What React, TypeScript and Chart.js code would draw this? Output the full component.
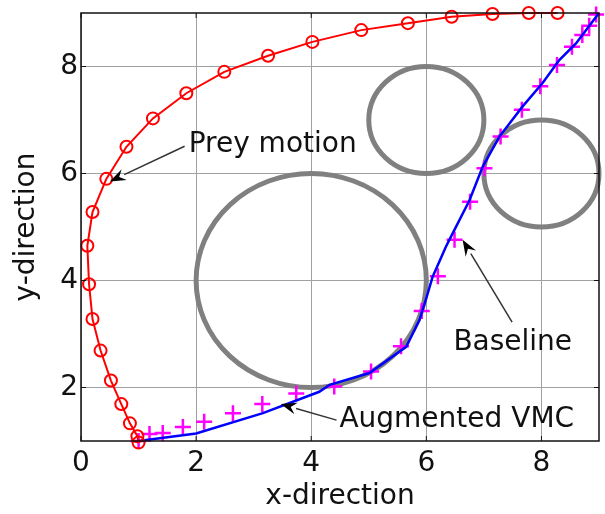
import React, { useEffect, useRef } from "react";
import { Chart, registerables } from "chart.js";

Chart.register(...registerables);

// ---- data ----
const xTicks = [0, 2, 4, 6, 8];
const yTicks = [2, 4, 6, 8];

const preyX = [1.0, 0.98, 0.85, 0.7, 0.52, 0.34, 0.2, 0.14, 0.11, 0.2, 0.44, 0.79, 1.25, 1.83, 2.49, 3.25, 4.02, 4.87, 5.68, 6.44, 7.15, 7.78, 8.28];
const preyY = [0.97, 1.09, 1.33, 1.69, 2.13, 2.69, 3.28, 3.93, 4.65, 5.28, 5.9, 6.5, 7.03, 7.5, 7.9, 8.2, 8.46, 8.68, 8.81, 8.93, 8.98, 9.0, 9.0];

const baselineX = [1.0, 2.0, 3.16, 4.14, 4.32, 5.01, 5.65, 5.88, 6.0, 6.11, 6.34, 6.4, 6.75, 6.98, 7.27, 7.67, 8.02, 8.31, 8.6, 9.0];
const baselineY = [1.0, 1.14, 1.52, 1.92, 2.05, 2.27, 2.76, 3.26, 3.67, 4.07, 4.63, 4.76, 5.5, 6.13, 6.69, 7.25, 7.69, 8.12, 8.43, 9.0];

const vmcX = [1.0, 1.19, 1.42, 1.77, 2.14, 2.64, 3.15, 3.74, 4.4, 5.04, 5.56, 5.92, 6.2, 6.49, 6.76, 7.01, 7.29, 7.66, 7.98, 8.27, 8.53, 8.71, 8.83, 8.95];
const vmcY = [1.0, 1.13, 1.15, 1.26, 1.36, 1.52, 1.69, 1.89, 2.02, 2.3, 2.77, 3.43, 4.08, 4.76, 5.47, 6.1, 6.69, 7.19, 7.63, 8.03, 8.37, 8.59, 8.76, 8.97];

const obstacleX = [4, 6, 8];
const obstacleY = [4, 7, 6];
const obstacleR = [2, 1, 1];

const noteText = ["Prey motion", "Baseline", "Augmented VMC"];
const noteX = [1.87, 6.47, 4.49];
const noteY = [6.4, 2.7, 1.26];
const arrowFromX = [1.8, 7.49, 4.44];
const arrowFromY = [6.51, 3.22, 1.39];
const arrowToX = [0.5, 6.63, 3.47];
const arrowToY = [5.85, 4.76, 1.69];

const FONT = "'DejaVu Sans', sans-serif";

const toPts = (xs: number[], ys: number[]) => xs.map((x, i) => ({ x, y: ys[i] }));

const zeroPad = () => ({ left: 0, right: 0, top: 0, bottom: 0 });

const overlay = {
  id: "overlay",
  beforeLayout(chart: any) {
    for (const id of Object.keys(chart.scales)) {
      chart.scales[id].getPadding = zeroPad;
    }
  },
  beforeDatasetsDraw(chart: any) {
    const { ctx } = chart;
    const xs = chart.scales.x;
    const ys = chart.scales.y;
    ctx.save();
    ctx.strokeStyle = "#808080";
    ctx.lineWidth = 5;
    for (let i = 0; i < obstacleX.length; i++) {
      const cx = xs.getPixelForValue(obstacleX[i]);
      const cy = ys.getPixelForValue(obstacleY[i]);
      const rx = xs.getPixelForValue(obstacleX[i] + obstacleR[i]) - cx;
      const ry = cy - ys.getPixelForValue(obstacleY[i] + obstacleR[i]);
      ctx.beginPath();
      ctx.ellipse(cx, cy, rx, ry, 0, 0, Math.PI * 2);
      ctx.stroke();
    }
    ctx.restore();
  },
  afterDatasetsDraw(chart: any) {
    const { ctx } = chart;
    const xs = chart.scales.x;
    const ys = chart.scales.y;
    ctx.save();
    for (let i = 0; i < noteText.length; i++) {
      const x1 = xs.getPixelForValue(arrowFromX[i]);
      const y1 = ys.getPixelForValue(arrowFromY[i]);
      const x2 = xs.getPixelForValue(arrowToX[i]);
      const y2 = ys.getPixelForValue(arrowToY[i]);
      const ang = Math.atan2(y2 - y1, x2 - x1);
      const hl = 16;
      const hw = 6;
      const bx = x2 - hl * Math.cos(ang);
      const by = y2 - hl * Math.sin(ang);
      ctx.strokeStyle = "#333";
      ctx.lineWidth = 1.5;
      ctx.beginPath();
      ctx.moveTo(x1, y1);
      ctx.lineTo(bx, by);
      ctx.stroke();
      ctx.fillStyle = "#000";
      ctx.beginPath();
      ctx.moveTo(x2, y2);
      ctx.lineTo(bx + hw * Math.sin(ang), by - hw * Math.cos(ang));
      ctx.lineTo(bx + 0.35 * hl * Math.cos(ang), by + 0.35 * hl * Math.sin(ang));
      ctx.lineTo(bx - hw * Math.sin(ang), by + hw * Math.cos(ang));
      ctx.closePath();
      ctx.fill();
      ctx.font = `28px ${FONT}`;
      ctx.fillStyle = "#111";
      ctx.textBaseline = "alphabetic";
      ctx.textAlign = "left";
      ctx.fillText(noteText[i], xs.getPixelForValue(noteX[i]), ys.getPixelForValue(noteY[i]));
    }
    ctx.restore();
  },
  afterDraw(chart: any) {
    const { ctx, chartArea: a } = chart;
    const xs = chart.scales.x;
    const ys = chart.scales.y;
    ctx.save();
    ctx.strokeStyle = "#111";
    ctx.lineWidth = 1.5;
    ctx.strokeRect(a.left, a.top, a.right - a.left, a.bottom - a.top);
    ctx.lineWidth = 1;
    ctx.beginPath();
    for (const v of xTicks) {
      const p = xs.getPixelForValue(v);
      ctx.moveTo(p, a.bottom);
      ctx.lineTo(p, a.bottom - 5);
      ctx.moveTo(p, a.top);
      ctx.lineTo(p, a.top + 5);
    }
    for (const v of yTicks) {
      const p = ys.getPixelForValue(v);
      ctx.moveTo(a.left, p);
      ctx.lineTo(a.left + 5, p);
      ctx.moveTo(a.right, p);
      ctx.lineTo(a.right - 5, p);
    }
    ctx.stroke();
    ctx.restore();
  },
};

export default function App() {
  const ref = useRef<HTMLCanvasElement | null>(null);
  useEffect(() => {
    if (!ref.current) return;
    const chart = new Chart(ref.current, {
      type: "scatter",
      data: {
        datasets: [
          {
            label: "Prey motion",
            data: toPts(preyX, preyY),
            showLine: true,
            borderColor: "#ff0000",
            borderWidth: 2,
            pointStyle: "circle",
            pointRadius: 6,
            pointBorderWidth: 2,
            pointBorderColor: "#ff0000",
            pointBackgroundColor: "rgba(0,0,0,0)",
            fill: false,
            tension: 0,
            clip: false as any,
          },
          {
            label: "Baseline",
            data: toPts(baselineX, baselineY),
            showLine: true,
            borderColor: "#0000ff",
            borderWidth: 2.5,
            pointRadius: 0,
            fill: false,
            tension: 0,
            clip: false as any,
          },
          {
            label: "Augmented VMC",
            data: toPts(vmcX, vmcY),
            showLine: false,
            pointStyle: "cross",
            pointRadius: 8,
            pointBorderWidth: 2.5,
            pointBorderColor: "#ff00ff",
            borderColor: "#ff00ff",
            clip: false as any,
          },
        ],
      },
      options: {
        responsive: false,
        animation: false,
        devicePixelRatio: 1,
        layout: { autoPadding: false, padding: { top: 13, right: 6, left: 0, bottom: 0 } },
        plugins: { legend: { display: false }, tooltip: { enabled: false } },
        scales: {
          x: {
            type: "linear",
            min: 0,
            max: 9,
            afterBuildTicks: (s: any) => {
              s.ticks = xTicks.map((v) => ({ value: v }));
            },
            afterFit: (s: any) => {
              s.height = 73;
            },
            ticks: { font: { family: FONT, size: 28 }, color: "#111", padding: 6, maxRotation: 0 },
            grid: { color: "#a0a0a0", lineWidth: 1, drawTicks: false },
            border: { display: false },
            title: {
              display: true,
              text: "x-direction",
              font: { family: FONT, size: 28 },
              color: "#111",
              padding: { top: 0, bottom: 0 },
            },
          },
          y: {
            type: "linear",
            min: 1,
            max: 9,
            afterBuildTicks: (s: any) => {
              s.ticks = yTicks.map((v) => ({ value: v }));
            },
            afterFit: (s: any) => {
              s.width = 81;
            },
            ticks: { font: { family: FONT, size: 28 }, color: "#111", padding: 3 },
            grid: { color: "#a0a0a0", lineWidth: 1, drawTicks: false },
            border: { display: false },
            title: {
              display: true,
              text: "y-direction",
              font: { family: FONT, size: 28 },
              color: "#111",
              padding: { top: 10, bottom: 0 },
            },
          },
        },
      },
      plugins: [overlay],
    } as any);
    return () => chart.destroy();
  }, []);
  return (
    <canvas
      ref={ref}
      width={605}
      height={514}
      style={{ position: "absolute", left: 0, top: 0, display: "block", background: "#fff" }}
    />
  );
}
